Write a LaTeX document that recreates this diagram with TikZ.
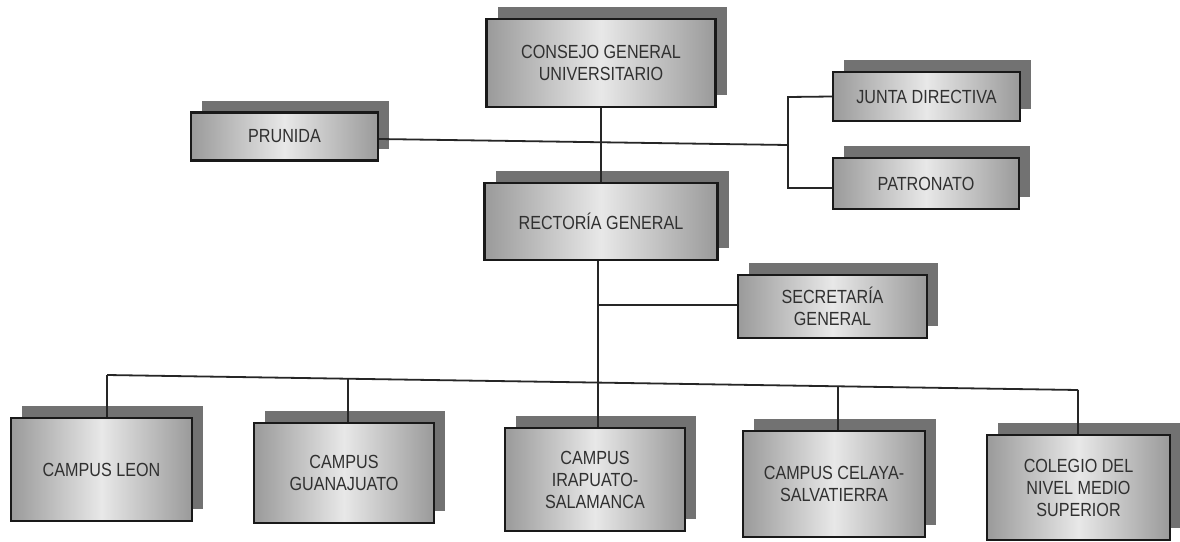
\documentclass[tikz,border=0pt]{standalone}
\usepackage{fontspec}
\setmainfont{Liberation Sans}[FakeStretch=0.85]
\usetikzlibrary{shadows}
\definecolor{edge}{HTML}{9A9A9A}
\definecolor{mid}{HTML}{E8E8E8}
\definecolor{shad}{HTML}{727272}
\definecolor{txt}{HTML}{303030}
\definecolor{ln}{HTML}{262626}
\begin{document}
\begin{tikzpicture}[x=1pt,y=-1pt,
  org/.style={rectangle, draw=black!90, line width=2.4pt,
    left color=edge, right color=edge, middle color=mid,
    text=txt, font=\fontsize{19}{22}\selectfont, align=center, inner sep=0pt,
    general shadow={shadow xshift=11pt, shadow yshift=12pt, fill=shad}},
  link/.style={draw=ln, line width=1.8pt}]
\useasboundingbox[fill=white] (0,0) rectangle (1180,541);

\node[org, minimum width=229pt, minimum height=88pt] (cons) at (601,63) {CONSEJO GENERAL\\UNIVERSITARIO};
\node[org, minimum width=187pt, minimum height=48pt] (prun) at (284.5,136.5) {PRUNIDA};
\node[org, minimum width=187pt, minimum height=49pt] (junta) at (926.5,96.5) {JUNTA DIRECTIVA};
\node[org, minimum width=186pt, minimum height=51pt] (patr) at (926,183.5) {PATRONATO};
\node[org, minimum width=233pt, minimum height=77pt] (rect) at (601,221.5) {RECTORÍA GENERAL};
\node[org, minimum width=189pt, minimum height=63pt] (secr) at (832.5,306.5) {SECRETARÍA\\GENERAL};
\node[org, minimum width=181pt, minimum height=103pt] (leon) at (101.5,469.5) {CAMPUS LEON};
\node[org, minimum width=180pt, minimum height=100pt] (guan) at (344,473) {CAMPUS\\GUANAJUATO};
\node[org, minimum width=180pt, minimum height=103pt] (irap) at (595,479.5) {CAMPUS\\IRAPUATO-\\SALAMANCA};
\node[org, minimum width=182pt, minimum height=106pt] (cela) at (834,484) {CAMPUS CELAYA-\\SALVATIERRA};
\node[org, minimum width=183pt, minimum height=105pt] (cole) at (1078.5,487.5) {COLEGIO DEL\\NIVEL MEDIO\\SUPERIOR};

\coordinate (jv) at (788,145);
\coordinate (jt) at (788,97);
\coordinate (jb) at (788,188);
\coordinate (bs) at (598,305);
\coordinate (bl) at (107,375);
\coordinate (b2) at (348,378.7);
\coordinate (bm) at (598,382.6);
\coordinate (b4) at (838,386.3);
\coordinate (br) at (1078,390);

\draw[link] (cons.south) -- (cons.south |- rect.north);
\draw[link] ([yshift=-2.5pt]prun.east) -- (jv);
\draw[link] (junta.west) -- (jt) -- (jb) -- (jb -| patr.west);
\draw[link] (bm |- rect.south) -- (bm);
\draw[link] (bs) -- (bs -| secr.west);
\draw[link] (bl) -- (br);
\draw[link] (bl) -- (bl |- leon.north);
\draw[link] (b2) -- (b2 |- guan.north);
\draw[link] (bm) -- (bm |- irap.north);
\draw[link] (b4) -- (b4 |- cela.north);
\draw[link] (br) -- (br |- cole.north);
\end{tikzpicture}
\end{document}
